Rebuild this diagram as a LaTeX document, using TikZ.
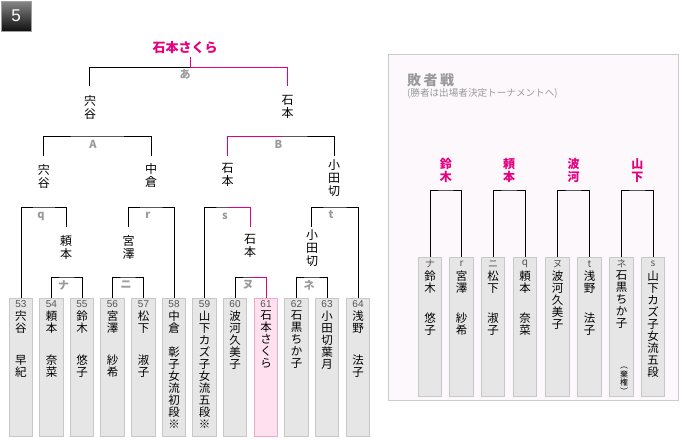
\documentclass[tikz,border=0pt]{standalone}
\usepackage{fontspec}
\setmainfont{Noto Sans CJK JP}
\newfontfamily\latf{Liberation Sans}
\definecolor{pk}{HTML}{E4007F}
\definecolor{lbl}{HTML}{9A9A9A}
\definecolor{numc}{HTML}{555555}
\definecolor{boxf}{HTML}{E6E6E6}
\definecolor{boxd}{HTML}{C8C8C8}
\definecolor{pboxf}{HTML}{FFE0EE}
\definecolor{pboxd}{HTML}{F2A7CC}
\definecolor{panelf}{HTML}{FDF8FC}
\definecolor{paneld}{HTML}{CCCCCC}
\tikzset{
  mbox/.style={draw=boxd, fill=boxf, anchor=north, minimum width=23.5pt, minimum height=138pt, inner sep=0pt, line width=1pt},
  pbox/.style={mbox, draw=pboxd, fill=pboxf},
  cbox/.style={mbox, minimum height=139pt},
  numst/.style={inner sep=0pt, text=numc, font=\latf\fontsize{10}{10}\selectfont},
  cnumst/.style={inner sep=0pt, text=numc, font=\fontsize{10}{10}\selectfont},
  namest/.style={anchor=north, inner sep=0pt, align=center, font=\fontsize{11.5}{12}\selectfont},
  bname/.style={anchor=north, inner sep=0pt, align=center, font=\fontsize{12}{13}\selectfont},
  pkname/.style={anchor=north, inner sep=0pt, align=center, text=pk, font=\bfseries\fontsize{12}{13}\selectfont},
  lblst/.style={inner sep=0pt, text=lbl, font=\bfseries\fontsize{11}{11}\selectfont},
  wire/.style={line width=1pt, draw=black},
  pwire/.style={line width=1pt, draw=pk}
}
\newcommand{\plbox}[5]{%
  \node[#5] (#1) at (#2,298) {};
  \node[numst] (#1n) at (#2,304.5) {#3};
  \node[namest] (#1t) at (#2,310.5) {#4};
}
\newcommand{\clbox}[4]{%
  \node[cbox] (#1) at (#2,257) {};
  \node[cnumst] (#1n) at (#2,264) {#3};
  \node[namest] (#1t) at (#2,271) {#4};
}
\begin{document}
\begin{tikzpicture}[x=1pt,y=-1pt]
\fill[white] (0,0) rectangle (680,440);
\useasboundingbox (0,0) rectangle (680,440);

% badge
\node[minimum size=30pt, inner sep=0pt, top color={rgb,255:red,135;green,135;blue,135}, bottom color={rgb,255:red,15;green,15;blue,15}, draw={rgb,255:red,160;green,160;blue,160}, line width=0.8pt, text=white, font=\latf\fontsize{17}{17}\selectfont] (badge) at (16,16) {5};

% winner
\node[inner sep=0pt, text=pk, font=\bfseries\fontsize{13}{13}\selectfont] (win) at (185,48) {石本さくら};

% top-level names
\node[bname] (n1L) at (90,95) {宍\\谷};
\node[bname] (n1R) at (287.5,95) {石\\本};
% second level names
\node[bname] (n2a) at (43.9,164) {宍\\谷};
\node[bname] (n2b) at (151,163) {中\\倉};
\node[bname] (n2c) at (227.5,163) {石\\本};
\node[bname] (n2d) at (334,159) {小\\田\\切};
% third level names
\node[bname] (n3q) at (66.2,235) {頼\\本};
\node[bname] (n3r) at (128.5,235) {宮\\澤};
\node[bname] (n3s) at (250,234) {石\\本};
\node[bname] (n3t) at (312.2,229) {小\\田\\切};

% player boxes
\plbox{b53}{21}{53}{宍\\谷\\[20pt]早\\紀}{mbox}
\plbox{b54}{51.5}{54}{頼\\本\\[20pt]奈\\菜}{mbox}
\plbox{b55}{82}{55}{鈴\\木\\[20pt]悠\\子}{mbox}
\plbox{b56}{112.5}{56}{宮\\澤\\[20pt]紗\\希}{mbox}
\plbox{b57}{143.5}{57}{松\\下\\[20pt]淑\\子}{mbox}
\plbox{b58}{174}{58}{中\\倉\\[12pt]彰\\子\\女\\流\\初\\段\\※}{mbox}
\plbox{b59}{204.5}{59}{山\\下\\カ\\ズ\\子\\女\\流\\五\\段\\※}{mbox}
\plbox{b60}{235}{60}{波\\河\\久\\美\\子}{mbox}
\plbox{b61}{266}{61}{石\\本\\さ\\く\\ら}{pbox}
\plbox{b62}{296.5}{62}{石\\黒\\ち\\か\\子}{mbox}
\plbox{b63}{327}{63}{小\\田\\切\\葉\\月}{mbox}
\plbox{b64}{358}{64}{浅\\野\\[20pt]法\\子}{mbox}

% bracket coordinates
\coordinate (top) at (190,67);
\coordinate (wB) at (190,57);
\coordinate (topL) at (89,86);
\coordinate (topR) at (287,86);
\coordinate (A) at (97.4,136);
\coordinate (AL) at (43.9,156);
\coordinate (AR) at (151,156);
\coordinate (B) at (281.2,136);
\coordinate (BL) at (227.5,156);
\coordinate (BR) at (334.9,156);
\coordinate (q) at (43.9,207);
\coordinate (qR) at (66.75,227);
\coordinate (r) at (151,207);
\coordinate (rL) at (128,227);
\coordinate (s) at (227.5,207);
\coordinate (sR) at (250.5,227);
\coordinate (t) at (334.9,207);
\coordinate (tL) at (311.75,227);
\coordinate (na) at (66.75,277);
\coordinate (ni) at (128,277);
\coordinate (nu) at (250.5,277);
\coordinate (ne) at (311.75,277);

% brackets (black)
\draw[wire] (top) -| (topL);
\draw[wire] (AL) |- (A) -| (AR);
\draw[wire] (BL) |- (B) -| (BR);
\draw[wire] (b53.north) |- (q) -| (qR);
\draw[wire] (rL) |- (r) -| (b58.north);
\draw[wire] (b59.north) |- (s) -| (sR);
\draw[wire] (tL) |- (t) -| (b64.north);
\draw[wire] (b54.north) |- (na) -| (b55.north);
\draw[wire] (b56.north) |- (ni) -| (b57.north);
\draw[wire] (b60.north) |- (nu) -| (b61.north);
\draw[wire] (b62.north) |- (ne) -| (b63.north);
% winner path (pink)
\draw[pwire] (wB) -- (top) -| (topR);
\draw[pwire] (BL) |- (B);
\draw[pwire] (s) -| (sR);
\draw[pwire] (nu) -| (b61.north);

% bracket labels
\node[lblst] (la) at (185,74) {あ};
\node[lblst] (lA) at (93,144) {A};
\node[lblst] (lB) at (278.5,144) {B};
\node[lblst] (lq) at (41,216) {q};
\node[lblst] (lr) at (148,215) {r};
\node[lblst] (ls) at (225,216) {s};
\node[lblst] (lt) at (331,215) {t};
\node[lblst] (lna) at (63.5,285) {ナ};
\node[lblst] (lni) at (126,285) {ニ};
\node[lblst] (lnu) at (248,285) {ヌ};
\node[lblst] (lne) at (309,285) {ネ};

% consolation panel
\draw[draw=paneld, fill=panelf, line width=1pt] (388,54) rectangle (678,400);
\node[anchor=west, inner sep=0pt, text=lbl, font=\bfseries\fontsize{14}{14}\selectfont] (ctitle) at (407,80) {敗\hspace{2.5pt}者\hspace{2.5pt}戦};
\node[anchor=west, inner sep=0pt, text=lbl, font=\fontsize{9.6}{10}\selectfont] (csub) at (407,93) {(勝者は出場者決定トーナメントへ)};

\node[pkname] (w1) at (445.75,158) {鈴\\木};
\node[pkname] (w2) at (509,158) {頼\\本};
\node[pkname] (w3) at (573.5,158) {波\\河};
\node[pkname] (w4) at (637.25,158) {山\\下};

\clbox{c1}{430}{ナ}{鈴\\木\\[18pt]悠\\子}
\clbox{c2}{461.5}{r}{宮\\澤\\[18pt]紗\\希}
\clbox{c3}{493}{ニ}{松\\下\\[18pt]淑\\子}
\clbox{c4}{525}{q}{頼\\本\\[18pt]奈\\菜}
\clbox{c5}{557.5}{ヌ}{波\\河\\久\\美\\子}
\clbox{c6}{589.5}{t}{浅\\野\\[18pt]法\\子}
\clbox{c7}{621.5}{ネ}{石\\黒\\ち\\か\\子}
\clbox{c8}{653}{s}{山\\下\\カ\\ズ\\子\\女\\流\\五\\段}
\node[anchor=north, inner sep=0pt, align=center, font=\fontsize{8}{8.5}\selectfont] (kiken) at (624,367) {︵\\棄\\権\\︶};

\coordinate (k1) at (445.75,190);
\coordinate (k2) at (509,190);
\coordinate (k3) at (573.5,190);
\coordinate (k4) at (637.25,190);
\draw[wire] (c1.north) |- (k1) -| (c2.north);
\draw[wire] (c3.north) |- (k2) -| (c4.north);
\draw[wire] (c5.north) |- (k3) -| (c6.north);
\draw[wire] (c7.north) |- (k4) -| (c8.north);
\end{tikzpicture}
\end{document}
